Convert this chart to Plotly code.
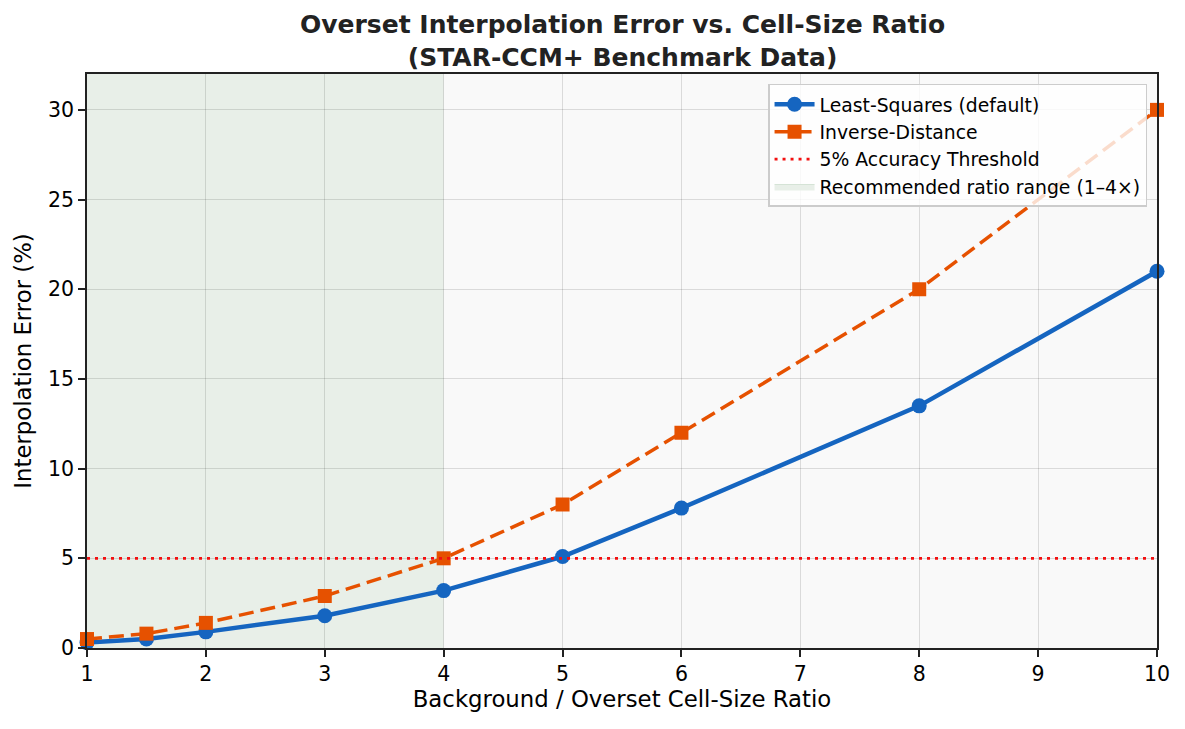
import plotly.graph_objects as go

ratio = [1, 1.5, 2, 3, 4, 5, 6, 8, 10]
least_squares = [0.3, 0.5, 0.9, 1.8, 3.2, 5.1, 7.8, 13.5, 21.0]
inverse_distance = [0.5, 0.8, 1.4, 2.9, 5.0, 8.0, 12.0, 20.0, 30.0]
threshold_x = [1, 10]
threshold_y = [5, 5]
recommended = [1, 4]

FONT = "DejaVu Sans"
SHADE = "#e8efe8"
fig = go.Figure()

fig.add_shape(type="rect", xref="x", yref="paper", x0=recommended[0], x1=recommended[1],
              y0=0, y1=1, fillcolor=SHADE, line_width=0, layer="below")

fig.add_trace(go.Scatter(x=ratio, y=least_squares, mode="lines+markers",
                         name="Least-Squares (default)",
                         line=dict(color="#1565C0", width=4.5),
                         marker=dict(symbol="circle", size=15, color="#1565C0"),
                         cliponaxis=False))
fig.add_trace(go.Scatter(x=ratio, y=inverse_distance, mode="lines+markers",
                         name="Inverse-Distance",
                         line=dict(color="#E65100", width=3.5, dash="15px,7px"),
                         marker=dict(symbol="square", size=14, color="#E65100"),
                         cliponaxis=False))
fig.add_trace(go.Scatter(x=threshold_x, y=threshold_y, mode="lines",
                         name="5% Accuracy Threshold",
                         line=dict(color="#f21010", width=2.8, dash="3px,5px")))
fig.add_trace(go.Scatter(x=[None], y=[None], mode="lines", fill="toself",
                         name="Recommended ratio range (1\u20134\u00d7)",
                         fillcolor=SHADE,
                         line=dict(color="#d5e3d6", width=1)))

axis_common = dict(showline=True, linecolor="#222222", linewidth=1.6, mirror=True,
                   ticks="outside", ticklen=7, tickwidth=1.6, tickcolor="#222222",
                   showgrid=True, gridcolor="rgba(0,0,0,0.12)", gridwidth=1.3,
                   zeroline=False, tickfont=dict(family=FONT, size=20.5, color="black"))

fig.update_layout(
    width=1185, height=729,
    margin=dict(l=87, r=28, t=74, b=81),
    paper_bgcolor="white", plot_bgcolor="#f9f9f9",
    annotations=[dict(text="<b>Overset Interpolation Error vs. Cell-Size Ratio<br>(STAR-CCM+ Benchmark Data)</b>",
                      xref="paper", yref="paper", x=0.5, xanchor="center",
                      y=(648 - 8) / 574, yanchor="top", showarrow=False,
                      font=dict(family=FONT, size=25, color="#222222"))],
    xaxis=dict(range=[1, 10], tickvals=list(range(1, 11)),
               title=dict(text="Background / Overset Cell-Size Ratio",
                          font=dict(family=FONT, size=22.8, color="black"), standoff=6),
               **axis_common),
    yaxis=dict(range=[0, 32], tickvals=[0, 5, 10, 15, 20, 25, 30],
               title=dict(text="Interpolation Error (%)",
                          font=dict(family=FONT, size=22.8, color="black"), standoff=10),
               **axis_common),
    legend=dict(x=0.9907, xanchor="right", y=0.9826, yanchor="top",
                bgcolor="rgba(255,255,255,0.8)", bordercolor="#cccccc", borderwidth=1.5,
                font=dict(family=FONT, size=18.8, color="black"),
                itemwidth=40, tracegroupgap=0),
    showlegend=True,
)

fig.write_html("out.html")
